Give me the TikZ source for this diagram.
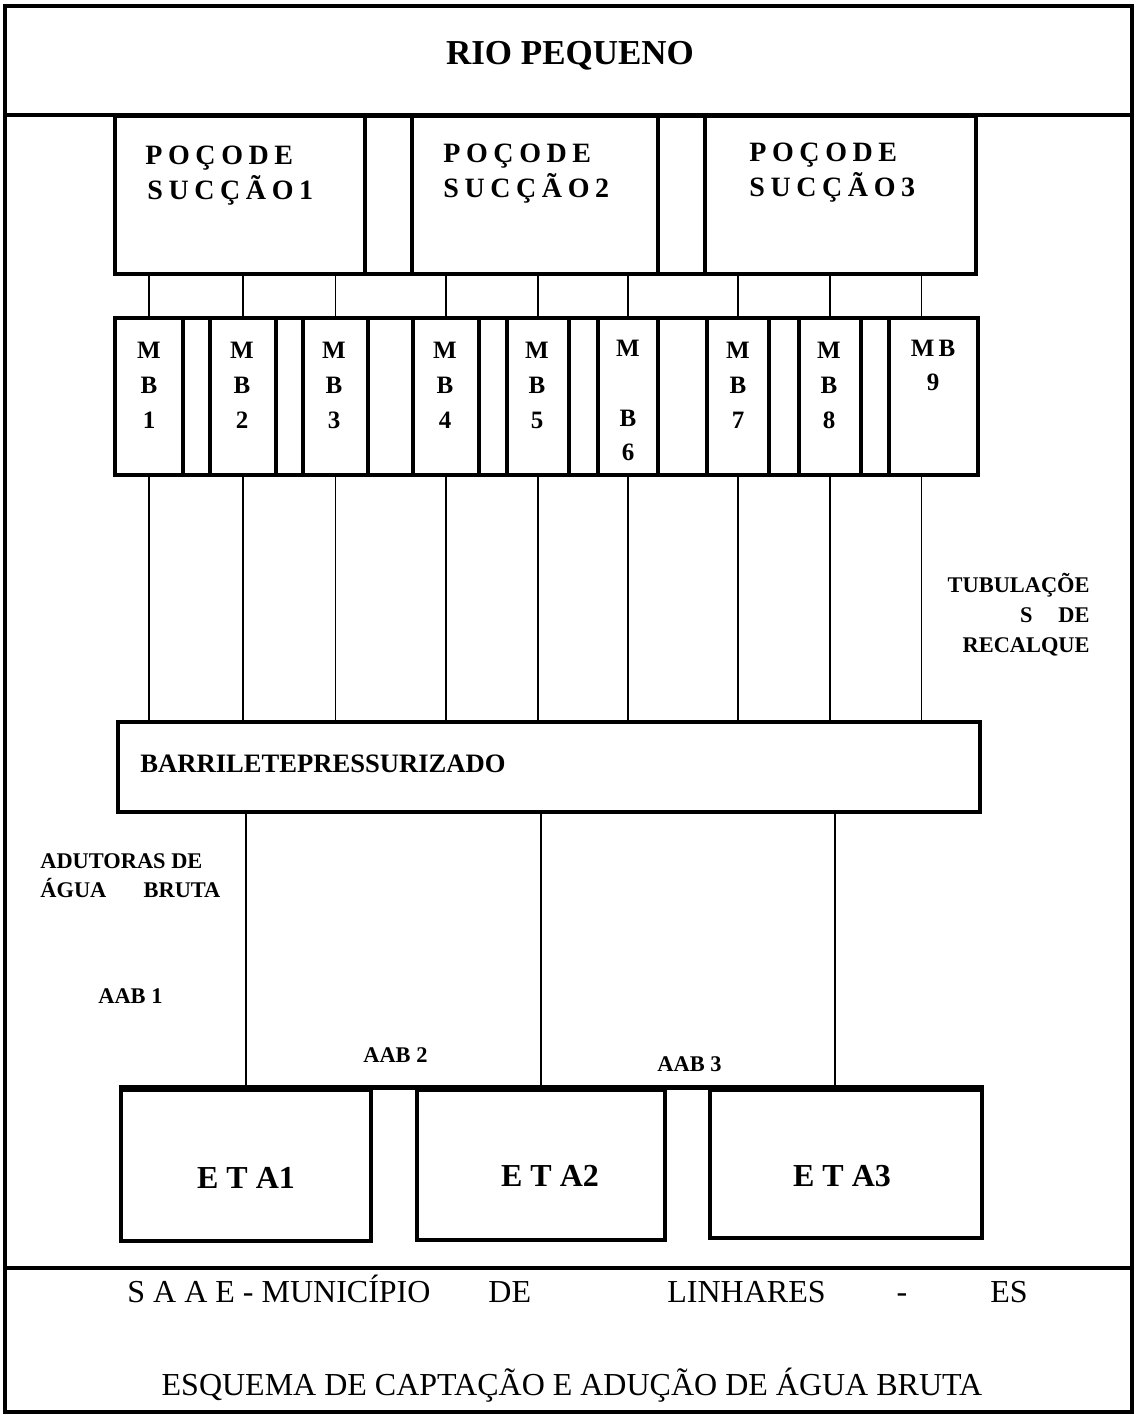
\documentclass[tikz,border=0pt]{standalone}
\usepackage{fontspec}
\setmainfont{Liberation Serif}
\usetikzlibrary{fit}
\begin{document}
\begin{tikzpicture}[x=0.5pt,y=-0.5pt,
  framebox/.style={draw, line width=2pt, inner sep=0pt},
  box/.style={draw, line width=2.4pt, inner sep=0pt},
  pipe/.style={line width=0.8pt},
  txt/.style={inner sep=0pt},
  titletxt/.style={txt, font=\fontsize{17.5}{20}\selectfont\bfseries},
  welltxt/.style={txt, anchor=base west, font=\fontsize{14}{17}\selectfont\bfseries\addfontfeature{LetterSpace=20}},
  mbtxt/.style={txt, anchor=base, font=\fontsize{12.5}{15}\selectfont\bfseries},
  lbl/.style={txt, font=\fontsize{11.2}{13}\selectfont\bfseries},
  bartxt/.style={txt, anchor=base west, font=\fontsize{13.3}{16}\selectfont\bfseries},
  etatxt/.style={txt, anchor=base, font=\fontsize{16}{19}\selectfont\bfseries},
  foot/.style={txt, font=\fontsize{16}{19}\selectfont}
]
\useasboundingbox (0,0) rectangle (1136,1415);

% page frame and sections
\node[framebox, fit={(5,6) (1132,1412)}] (page) {};
\node[box, fit={(5,6) (1132,115)}] (titlebox) {};
\node[box, fit={(5,1268) (1132,1412)}] (footbox) {};
\node[titletxt, anchor=base] (title) at (570,64) {RIO PEQUENO};

% suction wells
\node[box, fit={(115,116) (976,274)}] (wellrow) {};
\node[box, fit={(115,116) (365,274)}] (w1) {};
\node[box, fit={(412,116) (658,274)}] (w2) {};
\node[box, fit={(705,116) (976,274)}] (w3) {};
\node[welltxt] (w1a) at (145,164) {POÇODE};
\node[welltxt] (w1b) at (147,199) {SUCÇÃO1};
\node[welltxt] (w2a) at (443,162) {POÇODE};
\node[welltxt] (w2b) at (443,197) {SUCÇÃO2};
\node[welltxt] (w3a) at (749,161) {POÇODE};
\node[welltxt] (w3b) at (749,196) {SUCÇÃO3};

% pump row
\node[box, fit={(115,318) (978,475)}] (mbrow) {};
\node[box, fit={(115,318) (183,475)}] (mb1) {};
\node[box, fit={(210,318) (276,475)}] (mb2) {};
\node[box, fit={(303,318) (368,475)}] (mb3) {};
\node[box, fit={(413,318) (479,475)}] (mb4) {};
\node[box, fit={(507,318) (569,475)}] (mb5) {};
\node[box, fit={(598,318) (658,475)}] (mb6) {};
\node[box, fit={(707,318) (769,475)}] (mb7) {};
\node[box, fit={(799,318) (861,475)}] (mb8) {};
\node[box, fit={(889,318) (978,475)}] (mb9) {};

\foreach \i/\x in {1/149,2/242,3/334,4/445,5/537,7/738,8/829}{
  \node[mbtxt] (mbm\i) at (\x,358) {M};
  \node[mbtxt] (mbb\i) at (\x,393) {B};
  \node[mbtxt] (mbn\i) at (\x,428) {\i};
}
\node[mbtxt] (mbm6) at (628,356) {M};
\node[mbtxt] (mbb6) at (628,426) {B};
\node[mbtxt] (mbn6) at (628,460) {6};
\node[mbtxt] (mbm9) at (933,356) {M\,B};
\node[mbtxt] (mbn9) at (933,390) {9};

% suction pipes
\foreach \i in {1,...,8}{
  \draw[pipe] (mb\i.north) -- (mb\i.north |- wellrow.south);
}
\draw[pipe] ([xshift=-6pt]mb9.north) -- ([xshift=-6pt]mb9.north |- wellrow.south);

% barrilete
\node[box, fit={(118,722) (980,812)}] (bar) {};
\node[bartxt] (bart) at (140,772) {BARRILETEPRESSURIZADO};

% discharge pipes
\foreach \i in {1,...,8}{
  \draw[pipe] (mb\i.south) -- (mb\i.south |- bar.north);
}
\draw[pipe] ([xshift=-6pt]mb9.south) -- ([xshift=-6pt]mb9.south |- bar.north);

\node[lbl, anchor=base east] (tub1) at (1090,592) {TUBULAÇÕE};
\node[lbl, anchor=base east] (tub2) at (1090,622) {S\hspace{13pt}DE};
\node[lbl, anchor=base east] (tub3) at (1090,652) {RECALQUE};

% treatment plants
\node[box, fit={(121,1090) (371,1241)}] (eta1) {};
\node[box, fit={(417,1090) (665,1240)}] (eta2) {};
\node[box, fit={(710,1090) (982,1238)}] (eta3) {};
\draw[line width=2.4pt] (eta1.north west) -- (eta3.north east);
\node[etatxt] (eta1t) at (246,1188) {E T A1};
\node[etatxt] (eta2t) at (550,1186) {E T A2};
\node[etatxt] (eta3t) at (842,1186) {E T A3};

% adductor mains
\draw[pipe] (eta1.north) -- (eta1.north |- bar.south);
\draw[pipe] (eta2.north) -- (eta2.north |- bar.south);
\draw[pipe] ([xshift=-5.5pt]eta3.north) -- ([xshift=-5.5pt]eta3.north |- bar.south);

\node[lbl, anchor=base west] (adu1) at (40,868) {ADUTORAS DE};
\node[lbl, anchor=base west] (adu2) at (40,897) {\hbox to 90pt{ÁGUA\hfill BRUTA}};
\node[lbl, anchor=base west] (aab1) at (98,1003) {AAB 1};
\node[lbl, anchor=base west] (aab2) at (363,1062) {AAB 2};
\node[lbl, anchor=base west] (aab3) at (657,1071) {AAB 3};

% footer
\node[foot, anchor=base west] (f1) at (127,1302) {S A A E - MUNICÍPIO};
\node[foot, anchor=base west] (f2) at (488,1302) {DE};
\node[foot, anchor=base west] (f3) at (667,1302) {LINHARES};
\node[foot, anchor=base] (f4) at (902,1302) {-};
\node[foot, anchor=base west] (f5) at (990,1302) {ES};
\node[foot, anchor=base] (f6) at (572,1395) {ESQUEMA DE CAPTAÇÃO E ADUÇÃO DE ÁGUA BRUTA};
\end{tikzpicture}
\end{document}
